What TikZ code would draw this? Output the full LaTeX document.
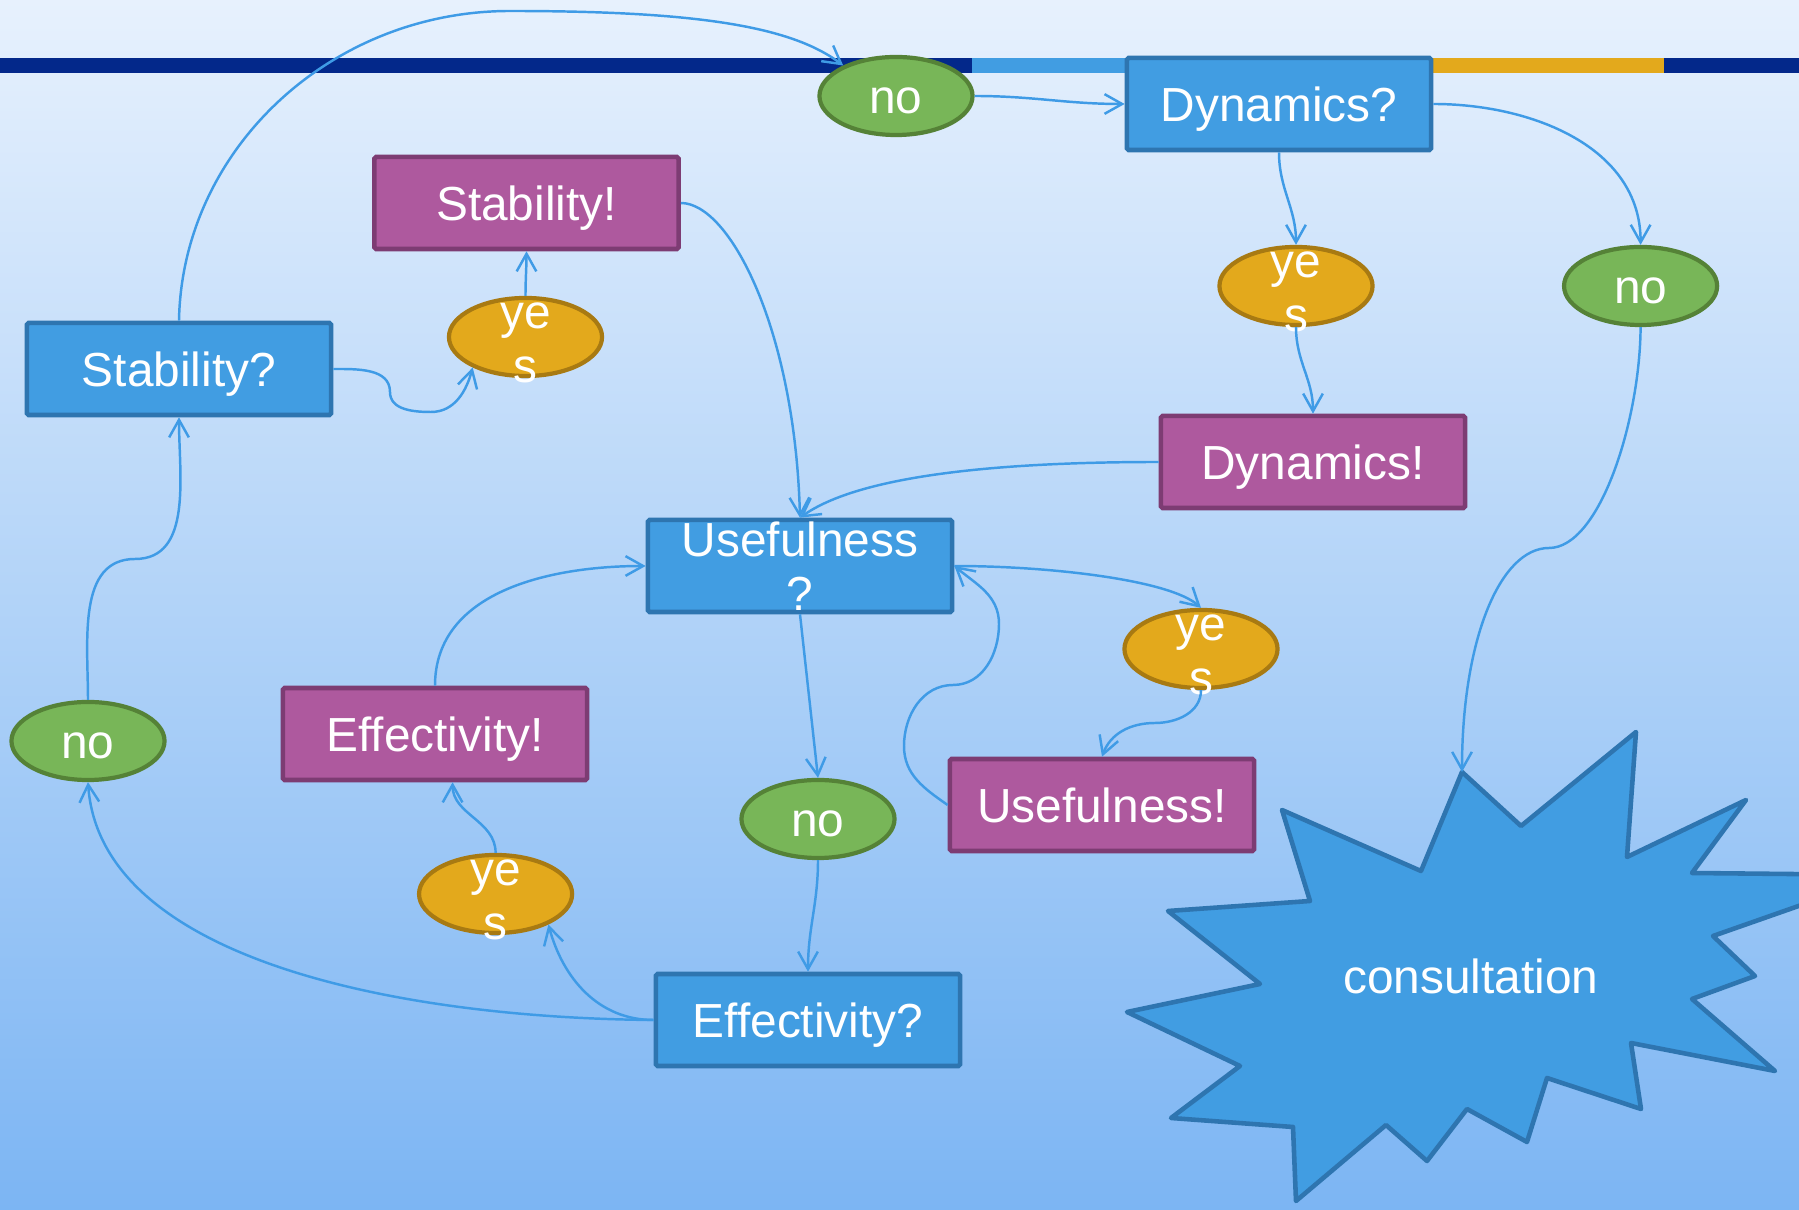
\documentclass[tikz,border=0pt]{standalone}
\usepackage{fontspec}
\setmainfont{Liberation Sans}
\usepackage{tikz}
\usetikzlibrary{shapes.geometric, arrows.meta}
\definecolor{bgtop}{HTML}{E7F1FD}
\definecolor{bgmid}{HTML}{AACFF8}
\definecolor{bgbot}{HTML}{7CB5F3}
\definecolor{navy3}{HTML}{03288A}
\definecolor{sky3}{HTML}{419DE2}
\definecolor{gold3}{HTML}{E3A91C}
\definecolor{askline}{HTML}{2E75B0}
\definecolor{purple3}{HTML}{AE599E}
\definecolor{purpleline}{HTML}{7D3C73}
\definecolor{yesline}{HTML}{A87A12}
\definecolor{green3}{HTML}{78B658}
\definecolor{greenline}{HTML}{558237}
\definecolor{link3}{HTML}{3F9BE6}

\begin{document}
\begin{tikzpicture}[x=0.01cm, y=-0.01cm,
  every node/.style={font=\fontsize{13.6pt}{15.4pt}\selectfont, text=white},
  oneline/.style={text height=12.6pt, text depth=2.6pt},
  askbox/.style={rectangle, draw=askline, fill=sky3, line width=1.3pt, rounded corners=0.5pt,
    minimum width=3.04cm, minimum height=0.92cm, inner sep=0pt, align=center},
  ask/.style={askbox, oneline},
  done/.style={ask, draw=purpleline, fill=purple3},
  yesnode/.style={ellipse, draw=yesline, fill=gold3, line width=1.2pt,
    minimum width=1.53cm, minimum height=0.78cm, inner xsep=0pt, inner ysep=-6pt, align=center},
  nonode/.style={yesnode, oneline, draw=greenline, fill=green3},
  link/.style={draw=link3, line width=0.7pt, -{Straight Barb[length=5pt,width=5.6pt]}}]

  \useasboundingbox (0,0) rectangle (1799,1210);
  \clip (0,0) rectangle (1799,1210);
  \shade[top color=bgtop, middle color=bgmid, bottom color=bgbot] (0,0) rectangle (1799,1210);

  % coloured band along the top
  \fill[navy3] (0,58) rectangle (972,73);
  \fill[sky3] (972,58) rectangle (1130,73);
  \fill[gold3] (1430,58) rectangle (1664,73);
  \fill[navy3] (1664,58) rectangle (1799,73);

  % consultation star
  \coordinate (burst-top) at (1462,772);
  \filldraw[fill=sky3, draw=askline, line width=1.3pt, line join=round]
    (burst-top) -- (1521,826) -- (1636,732) -- (1627,857) -- (1746,800) -- (1692,873)
    -- (1887,875) -- (1713,936) -- (1755,976) -- (1692,999) -- (1775,1071) -- (1631,1043)
    -- (1641,1109) -- (1547,1078) -- (1527,1142) -- (1467,1109) -- (1427,1161) -- (1386,1125)
    -- (1296,1201) -- (1293,1127) -- (1171,1118) -- (1240,1066) -- (1127,1012) -- (1260,984)
    -- (1168,911) -- (1310,901) -- (1282,810) -- (1421,871) -- cycle;
  \node (consult) at (1471,976) {consultation};

  % questions, answers and results
  \node[nonode] (no1) at (896,96) {no};
  \node[ask] (dynq) at (1279,104) {Dynamics?};
  \node[done] (stabe) at (526.5,203) {Stability!};
  \node[yesnode] (yes1) at (525.5,337) {\strut ye\\s};
  \node[ask] (stabq) at (179,369) {Stability?};
  \node[yesnode] (yes2) at (1296,286) {\strut ye\\s};
  \node[nonode] (no2) at (1640.6,286) {no};
  \node[done] (dyne) at (1313,462) {Dynamics!};
  \node[askbox] (useq) at (800,566) {Usefulness\\?};
  \node[yesnode] (yes3) at (1201,649) {\strut ye\\s};
  \node[done] (effe) at (435,734) {Effectivity!};
  \node[nonode] (no4) at (88,741) {no};
  \node[nonode] (no3) at (818,819) {no};
  \node[done] (usee) at (1102,805) {Usefulness!};
  \node[yesnode] (yes4) at (495.6,894) {\strut ye\\s};
  \node[ask] (effq) at (808,1020) {Effectivity?};

  \draw[link] (stabq.north) .. controls (182,150) and (330,11) .. (510,11)
    .. controls (690,11) and (790,25) .. (no1.150);
  \draw[link] (no1.east) to[out=0,in=180] (dynq.west);
  \draw[link] (dynq.east) to[out=0,in=90] (no2.north);
  \draw[link] (dynq.south) to[out=-90,in=90] (yes2.north);
  \draw[link] (yes2.south) to[out=-90,in=90] (dyne.north);
  \draw[link] (dyne.west) .. controls (1000,462) and (860,475) .. (useq.north);
  \draw[link] (stabe.east) .. controls (730,203) and (795,330) .. (useq.north);
  \draw[link] (stabq.east) to[out=0,in=90] (390,392) to[out=-90,in=180] (431,412)
    to[out=0,in=-105] (yes1.210);
  \draw[link] (yes1.north) to[out=90,in=-90] (stabe.south);
  \draw[link] (useq.east) .. controls (1050,566) and (1170,580) .. (yes3.north);
  \draw[link] (yes3.south) to[out=-90,in=0] (1155,723) to[out=180,in=70] (usee.north);
  \draw[link] (usee.west) to[out=145,in=-90] (904,746) to[out=90,in=180] (953,685)
    to[out=0,in=-90] (999,624) to[out=90,in=-40] (useq.east);
  \draw[link] (useq.south) -- (no3.north);
  \draw[link] (no3.south) to[out=-90,in=90] (effq.north);
  \draw[link] (effq.west) to[out=180,in=-75] (yes4.-30);
  \draw[link] (effq.west) .. controls (400,1018) and (100,960) .. (no4.south);
  \draw[link] (yes4.north) to[out=90,in=-90] (effe.-70);
  \draw[link] (effe.north) to[out=90,in=180] (useq.west);
  \draw[link] (no4.north) to[out=90,in=180] (135,559) to[out=0,in=-90] (stabq.south);
  \draw[link] (no2.south) .. controls (1640,420) and (1600,548) .. (1549,548)
    .. controls (1500,548) and (1462,640) .. (burst-top);

\end{tikzpicture}
\end{document}
